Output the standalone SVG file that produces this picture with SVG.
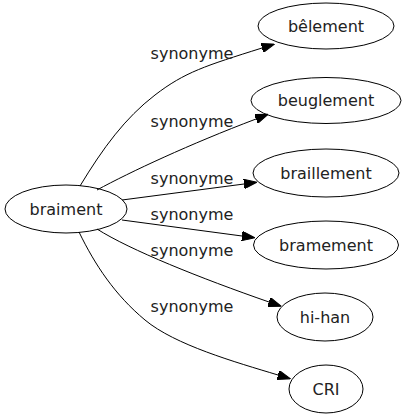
<svg xmlns="http://www.w3.org/2000/svg" width="406" height="419" viewBox="0 0 406 419">
<style>
  .node ellipse { fill: none; stroke: #000; stroke-width: 1; }
  .node text, .lbl { font-family: "DejaVu Sans", Verdana, sans-serif; font-size: 16px; fill: #222; text-anchor: middle; }
  .edge { fill: none; stroke: #000; stroke-width: 1; marker-end: url(#arr); }
</style>
<defs>
  <marker id="arr" markerUnits="userSpaceOnUse" viewBox="0 0 13 9.4" refX="0" refY="4.7" markerWidth="13" markerHeight="9.4" orient="auto">
    <path d="M0,0 L13,4.7 L0,9.4 z" fill="#000" stroke="#000" stroke-width="1"/>
  </marker>
</defs>
<rect width="406" height="419" fill="#fff"/>
<g id="connectors">
  <path class="edge" d="M80,186 C103,148 125,118 155,95 C185,72 205,66 262,48"/>
  <path class="edge" d="M97,190 C130,172 190,144 256,119"/>
  <path class="edge" d="M122,200 L244,184"/>
  <path class="edge" d="M122,220 L242,236"/>
  <path class="edge" d="M97,229 C130,250 200,278 269,302"/>
  <path class="edge" d="M79,232 C95,265 115,295 145,320 C175,345 235,362 278,375"/>
  <text class="lbl" x="192" y="59">synonyme</text>
  <text class="lbl" x="192" y="127">synonyme</text>
  <text class="lbl" x="192" y="184">synonyme</text>
  <text class="lbl" x="192" y="219.5">synonyme</text>
  <text class="lbl" x="192" y="255.5">synonyme</text>
  <text class="lbl" x="192" y="312">synonyme</text>
</g>
<g id="braiment" class="node">
  <ellipse cx="66" cy="209" rx="61" ry="24"/>
  <text x="66" y="215">braiment</text>
</g>
<g id="belement" class="node">
  <ellipse cx="326" cy="26" rx="68" ry="23"/>
  <text x="326" y="32">bêlement</text>
</g>
<g id="beuglement" class="node">
  <ellipse cx="326" cy="100.5" rx="75" ry="23"/>
  <text x="326" y="106">beuglement</text>
</g>
<g id="braillement" class="node">
  <ellipse cx="326" cy="173" rx="73" ry="24"/>
  <text x="326" y="178.5">braillement</text>
</g>
<g id="bramement" class="node">
  <ellipse cx="326" cy="245" rx="72.5" ry="24"/>
  <text x="326" y="250.5">bramement</text>
</g>
<g id="hi-han" class="node">
  <ellipse cx="325" cy="317" rx="48" ry="24"/>
  <text x="325" y="322.5">hi-han</text>
</g>
<g id="CRI" class="node">
  <ellipse cx="326" cy="389" rx="37" ry="24"/>
  <text x="326" y="394.5">CRI</text>
</g>
</svg>
